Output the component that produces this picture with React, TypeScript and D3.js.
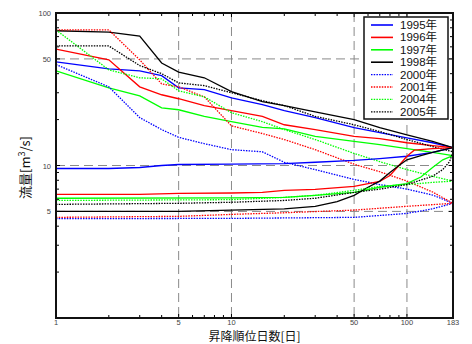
import React from "react";
import * as d3 from "d3";

type Pt = [number, number];

// descending-ranked (day, flow)
const desc1995: Pt[] = [[1,47.8],[2,43],[3,41.7],[4,38.8],[5,32.3],[7,31.4],[10,27.8],[15,25.1],[20,22.9],[30,20.6],[50,17.7],[70,16.4],[100,15.2],[140,14.1],[183,13.1]];
const desc1996: Pt[] = [[1,58],[2,49.3],[3,32.8],[4,29.1],[5,27.4],[7,24.7],[10,22.9],[15,21.0],[20,18.5],[30,17.2],[50,15.5],[70,15.0],[100,14.1],[140,13.5],[183,13.1]];
const desc1997: Pt[] = [[1,41.7],[2,32.3],[3,28.6],[4,23.9],[5,23.2],[7,21.0],[10,19.4],[15,17.8],[20,17.4],[30,15.5],[50,14.4],[70,13.7],[100,12.9],[140,12.2],[183,11.6]];
const desc1998: Pt[] = [[1,76.5],[2,75],[3,70.5],[4,47],[5,41],[7,37.6],[10,30.5],[15,26.2],[20,24.7],[30,22.5],[50,20],[70,17.7],[100,15.9],[140,14.4],[183,13.1]];
const desc2000: Pt[] = [[1,45.9],[2,32.8],[3,20.6],[4,17.2],[5,15.3],[7,13.9],[10,12.7],[15,12.3],[20,10.5],[30,9.4],[50,8.1],[70,7.5],[100,7.0],[140,6.4],[183,5.65]];
const desc2001: Pt[] = [[1,77.4],[2,77.4],[3,49.3],[4,34.3],[5,32.8],[7,28.2],[10,18.2],[15,16.2],[20,14.8],[30,12.7],[50,10.2],[70,9.1],[100,7.9],[140,6.7],[183,5.65]];
const desc2004: Pt[] = [[1,77.4],[2,42.4],[3,37.6],[4,37],[5,30.9],[7,28.2],[10,22.2],[15,19.4],[20,17.2],[30,14.8],[50,12],[70,10.6],[100,9.4],[140,8.5],[183,7.9]];
const desc2005: Pt[] = [[1,60.8],[2,60.8],[3,45.2],[4,40],[5,34.8],[7,33.4],[10,30.0],[15,26.6],[20,24.7],[30,21],[50,18.5],[70,16.7],[100,14.8],[140,13.3],[183,12.3]];

// ascending-ranked (day, flow)
const asc1995: Pt[] = [[1,9.56],[2,9.56],[3,9.7],[4,10],[5,10.15],[10,10.2],[20,10.3],[30,10.5],[50,10.8],[70,11.1],[100,11.5],[140,12.2],[183,13.1]];
const asc1996: Pt[] = [[1,6.46],[3,6.46],[5,6.56],[10,6.6],[15,6.66],[20,6.87],[30,6.97],[50,7.3],[70,7.86],[80,8.6],[90,10.0],[100,11.5],[110,12.6],[140,12.9],[183,13.1]];
const asc1997: Pt[] = [[1,6.1],[10,6.13],[20,6.18],[30,6.37],[50,6.66],[70,7.2],[100,7.6],[120,8.4],[140,9.7],[160,10.9],[183,11.6]];
const asc1998: Pt[] = [[1,5.0],[5,5.0],[10,5.1],[20,5.2],[30,5.4],[40,5.8],[50,6.37],[60,7.2],[70,7.9],[80,9.0],[90,10],[100,10.9],[120,11.6],[140,12.2],[183,13.1]];
const asc2000: Pt[] = [[1,4.48],[10,4.5],[50,4.57],[100,4.85],[140,5.2],[183,5.65]];
const asc2001: Pt[] = [[1,4.57],[5,4.64],[10,4.78],[20,4.9],[50,5.1],[100,5.4],[183,5.65]];
const asc2004: Pt[] = [[1,5.9],[10,5.97],[20,6.18],[30,6.37],[50,6.87],[70,7.3],[100,7.5],[140,7.75],[183,7.9]];
const asc2005: Pt[] = [[1,5.56],[5,5.65],[10,5.74],[20,5.9],[30,6.1],[50,6.66],[70,7.0],[100,7.5],[140,8.5],[160,9.4],[175,10.6],[183,12.3]];

const years = ["1995年","1996年","1997年","1998年","2000年","2001年","2004年","2005年"];
const colors = ["#0000ff","#ff0000","#00ff00","#000000","#0000ff","#ff0000","#00ff00","#000000"];
const dotted = [false,false,false,false,true,true,true,true];
const descSeries = [desc1995,desc1996,desc1997,desc1998,desc2000,desc2001,desc2004,desc2005];
const ascSeries = [asc1995,asc1996,asc1997,asc1998,asc2000,asc2001,asc2004,asc2005];

const xTickLabels = [1,5,10,50,100,183];
const yTickLabels = [5,10,50,100];
const xGrid = [5,10,50,100];
const yGrid = [5,10,50];
const xMinor = [2,3,4,6,7,8,9,20,30,40,60,70,80,90];
const yMinor = [2,3,4,6,7,8,9,20,30,40,60,70,80,90];

export default function App() {
  const W = 472, H = 344;
  const L = 56, R = 453, T = 13, B = 318;
  const x = d3.scaleLog().domain([1,183]).range([L,R]);
  const y = d3.scaleLog().domain([1,100]).range([B,T]);
  const line = d3.line<Pt>().x(d => x(d[0])).y(d => y(d[1]));
  const tickFont = "'Liberation Sans', Arial, sans-serif";
  const cjk = "'Noto Sans CJK JP', 'Noto Sans', sans-serif";
  const legendFont = "'Liberation Sans', 'Noto Sans CJK JP', sans-serif";
  return (
    <svg width={W} height={H} style={{position:"absolute", left:0, top:0}}>
      <rect x={0} y={0} width={W} height={H} fill="#fff" />
      <defs><clipPath id="clip"><rect x={L} y={T} width={R-L} height={B-T} /></clipPath></defs>
      {xGrid.map(v => <line key={"xg"+v} x1={x(v)} x2={x(v)} y1={T} y2={B} stroke="#8a8a8a" strokeWidth={1} strokeDasharray="9,5" />)}
      {yGrid.map(v => <line key={"yg"+v} x1={L} x2={R} y1={y(v)} y2={y(v)} stroke="#8a8a8a" strokeWidth={1} strokeDasharray="9,5" />)}
      <g clipPath="url(#clip)">
        {descSeries.map((s,i) => <path key={"d"+i} d={line(s) || ""} fill="none" stroke={colors[i]} strokeWidth={1.3} strokeDasharray={dotted[i] ? "1.5,1.2" : undefined} />)}
        {ascSeries.map((s,i) => <path key={"a"+i} d={line(s) || ""} fill="none" stroke={colors[i]} strokeWidth={1.3} strokeDasharray={dotted[i] ? "1.5,1.2" : undefined} />)}
      </g>
      {xMinor.map(v => <g key={"xm"+v}><line x1={x(v)} x2={x(v)} y1={B} y2={B-3} stroke="#000" /><line x1={x(v)} x2={x(v)} y1={T} y2={T+3} stroke="#000" /></g>)}
      {yMinor.map(v => <g key={"ym"+v}><line x1={L} x2={L+3} y1={y(v)} y2={y(v)} stroke="#000" /><line x1={R} x2={R-3} y1={y(v)} y2={y(v)} stroke="#000" /></g>)}
      {xGrid.map(v => <g key={"xM"+v}><line x1={x(v)} x2={x(v)} y1={B} y2={B-4} stroke="#000" /><line x1={x(v)} x2={x(v)} y1={T} y2={T+4} stroke="#000" /></g>)}
      {[5,10,50].map(v => <g key={"yM"+v}><line x1={L} x2={L+4} y1={y(v)} y2={y(v)} stroke="#000" /><line x1={R} x2={R-4} y1={y(v)} y2={y(v)} stroke="#000" /></g>)}
      <rect x={L} y={T} width={R-L} height={B-T} fill="none" stroke="#111" strokeWidth={2} />
      {xTickLabels.map(v => <text key={"xt"+v} x={x(v)} y={B+7} fontSize={7.5} fontFamily={tickFont} textAnchor="middle" fill="#444">{v}</text>)}
      {yTickLabels.map(v => <text key={"yt"+v} x={L-5} y={y(v)+3} fontSize={7.5} fontFamily={tickFont} textAnchor="end" fill="#444">{v}</text>)}
      <text x={(L+R)/2} y={340.5} fontSize={12} fontFamily={cjk} textAnchor="middle" fill="#111">昇降順位日数[日]</text>
      <text transform={`translate(30,${(T+B)/2 + 2}) rotate(-90)`} fontSize={13} fontFamily={cjk} textAnchor="middle" fill="#111">
        流量[m<tspan dy={-5} fontSize={9}>3</tspan><tspan dy={5}>/s]</tspan>
      </text>
      <rect x={364} y={17} width={84} height={102} fill="#fff" stroke="#111" strokeWidth={1.5} />
      {years.map((yr,i) => {
        const cy = 25 + i*12.4;
        return (
          <g key={"lg"+i}>
            <line x1={371} x2={393} y1={cy} y2={cy} stroke={colors[i]} strokeWidth={dotted[i] ? 1.3 : 1.6} strokeDasharray={dotted[i] ? "1.5,1.2" : undefined} />
            <text x={400} y={cy+4} fontSize={11.5} fontFamily={legendFont} fill="#111">{yr}</text>
          </g>
        );
      })}
    </svg>
  );
}
